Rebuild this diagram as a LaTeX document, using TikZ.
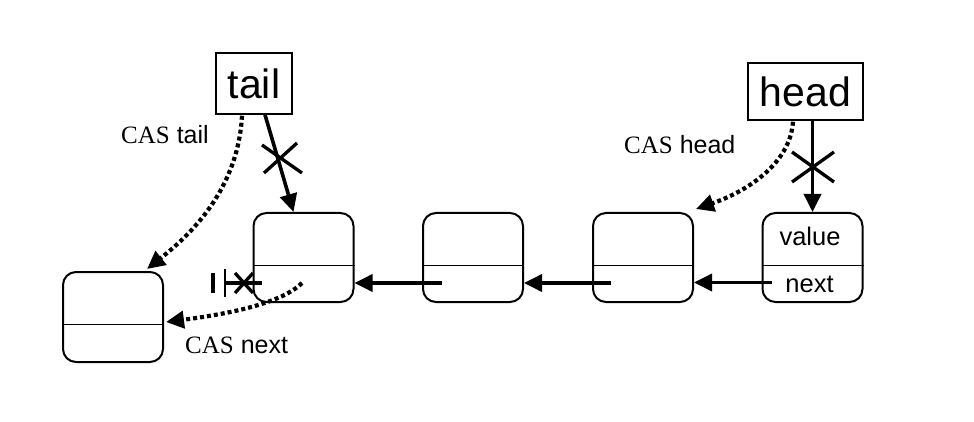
\documentclass[tikz,border=0pt]{standalone}
\usepackage{fontspec}
\setmainfont{Liberation Sans}
\newfontfamily\serifcas{Liberation Serif}
\usetikzlibrary{arrows.meta}
\begin{document}
\begin{tikzpicture}[x=1pt,y=-1pt,
  cell/.style={draw, line width=2pt, rounded corners=13pt, minimum width=100pt, minimum height=89pt, inner sep=0pt},
  ptr/.style={draw, line width=1.5pt, font=\fontsize{41}{45}\selectfont, inner sep=0pt},
  field/.style={font=\fontsize{25.5}{28}\selectfont, anchor=base, inner sep=0pt},
  lbl/.style={font=\fontsize{25}{28}\selectfont, anchor=base west, inner sep=0pt},
  link/.style={line width=3.6pt, -{Triangle[length=18pt,width=17pt]}},
  cas/.style={line width=4.2pt, dash pattern=on 4pt off 3pt, -{Triangle[length=18pt,width=17pt]}},
  cross/.style={line width=3.3pt}
]
\useasboundingbox (0,0) rectangle (974,422);
\fill[white] (0,0) rectangle (974,422);

% list cells
\node[cell, minimum height=90pt] (n0) at (113,317) {};
\node[cell] (n1) at (303.5,257.5) {};
\node[cell] (n2) at (473,257.5) {};
\node[cell] (n3) at (643,257.5) {};
\node[cell] (n4) at (812.5,257.5) {};
\foreach \n in {n0,n1,n2,n3,n4}
  \draw[line width=1.2pt] ([shift={(0,53.5)}]\n.north west) -- ([shift={(0,53.5)}]\n.north east);

\node[field] (val) at (810,245) {value};
\node[field] (nxt) at (809.5,292) {next};

% pointers
\node[ptr, minimum width=76pt, minimum height=61pt] (tail) at (254,83.5) {tail};
\node[ptr, minimum width=115pt, minimum height=57pt] (head) at (805.5,91.5) {head};

% labels
\node[lbl] (lt) at (121,144) {{\serifcas CAS}\ tail};
\node[lbl] (lh) at (624,154) {{\serifcas CAS}\ head};
\node[lbl] (ln) at (185,353) {{\serifcas CAS}\ next};

% next links
\coordinate (s4) at ([shift={(10,25)}]n4.west);
\coordinate (s3) at ([shift={(19,25.5)}]n3.west);
\coordinate (s2) at ([shift={(20,25.5)}]n2.west);
\draw[link] (s4) -- ([shift={(0,25)}]n3.east);
\draw[link] (s3) -- ([shift={(0,25.5)}]n2.east);
\draw[link] (s2) -- ([shift={(0,25.5)}]n1.east);

% null link of n1
\coordinate (s1) at ([shift={(9,25.5)}]n1.west);
\coordinate (nl) at (225,283);
\draw[line width=3.4pt] (s1) -- (nl);
\draw[line width=2.8pt] ([shift={(0,-14)}]nl) -- ([shift={(0,14)}]nl);
\draw[line width=4.5pt] ([shift={(-12,-10)}]nl) -- ([shift={(-12,10)}]nl);
\coordinate (xn) at (244,283);
\draw[cross] ([shift={(-9,-10)}]xn) -- ([shift={(9,10)}]xn);
\draw[cross] ([shift={(-9,10)}]xn) -- ([shift={(9,-10)}]xn);

% old pointers, crossed
\draw[link] ([shift={(11,0)}]tail.south) -- ([shift={(-10,0)}]n1.north);
\draw[link] (head.south -| n4.north) -- (n4.north);
\coordinate (xt) at (281,158);
\draw[cross] ([shift={(-19,-13)}]xt) -- ([shift={(21,15)}]xt);
\draw[cross] ([shift={(-17,15)}]xt) -- ([shift={(16,-15)}]xt);
\coordinate (xh) at (813,167);
\draw[cross] ([shift={(-21,-15)}]xh) -- ([shift={(21,15)}]xh);
\draw[cross] ([shift={(-21,15)}]xh) -- ([shift={(21,-15)}]xh);

% CAS arrows
\draw[cas] ([shift={(-12,1)}]tail.south) .. controls (238,190) and (190,235) .. ([shift={(34,-2)}]n0.north);
\draw[cas] ([shift={(-12.5,1)}]head.south) .. controls (790,165) and (745,192) .. ([shift={(2,-3)}]n3.north east);
\coordinate (sn) at ([shift={(-1.5,25.5)}]n1.center);
\draw[cas] (sn) .. controls (280,305) and (220,315) .. ([shift={(2,5)}]n0.east);
\end{tikzpicture}
\end{document}
